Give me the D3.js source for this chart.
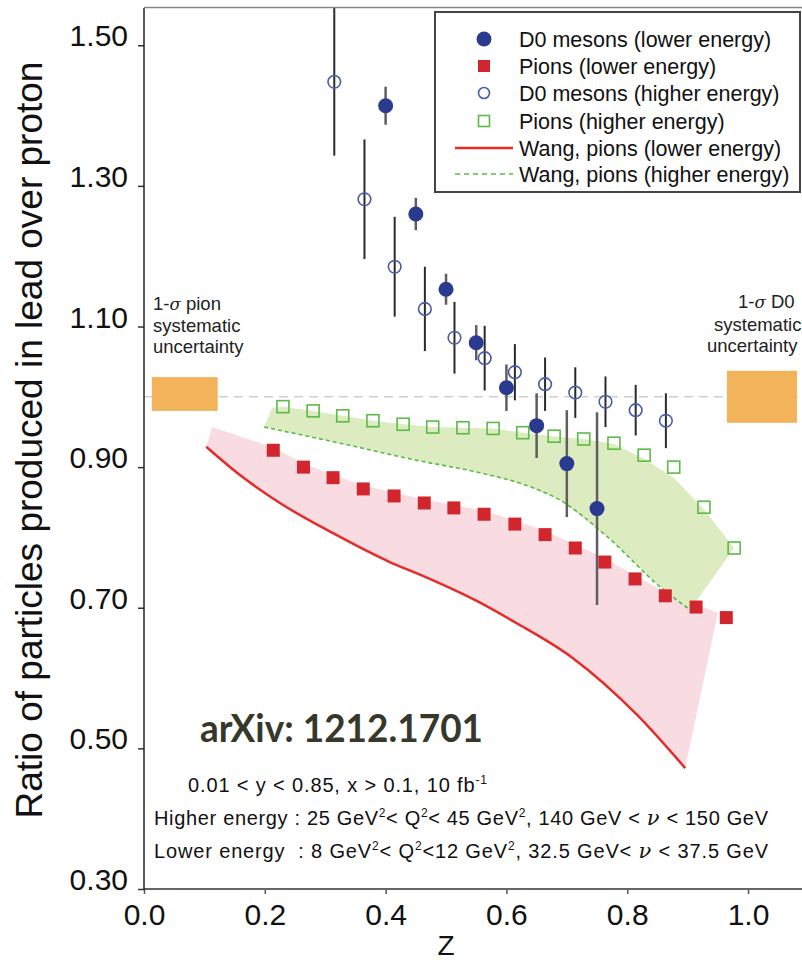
<!DOCTYPE html>
<html><head><meta charset="utf-8">
<script src="https://cdn.jsdelivr.net/npm/d3@7"></script>
<style>body{margin:0;background:#fff} svg{display:block} text{white-space:pre}</style>
</head><body>
<svg id="c" width="802" height="962"></svg>
<script>
// ---- data ----
const d0LowZ   = [0.40, 0.45, 0.50, 0.55, 0.60, 0.65, 0.70, 0.75];
const d0LowR   = [1.414, 1.260, 1.153, 1.077, 1.013, 0.959, 0.905, 0.841];
const d0LowErr = [0.027, 0.023, 0.022, 0.025, 0.033, 0.046, 0.076, 0.137];

const d0HighZ   = [0.315, 0.365, 0.415, 0.465, 0.514, 0.564, 0.614, 0.664, 0.714, 0.764, 0.814, 0.864];
const d0HighR   = [1.448, 1.281, 1.185, 1.125, 1.084, 1.055, 1.035, 1.018, 1.006, 0.993, 0.981, 0.966];
const d0HighErr = [0.105, 0.085, 0.071, 0.060, 0.051, 0.046, 0.040, 0.038, 0.036, 0.036, 0.036, 0.039];

const pionLowZ = [0.214, 0.264, 0.313, 0.363, 0.414, 0.464, 0.513, 0.563, 0.614, 0.664, 0.714, 0.763, 0.813, 0.863, 0.914, 0.964];
const pionLowR = [0.924, 0.900, 0.885, 0.869, 0.859, 0.849, 0.842, 0.833, 0.819, 0.804, 0.785, 0.765, 0.741, 0.717, 0.701, 0.686];

const pionHighZ = [0.230, 0.280, 0.329, 0.379, 0.429, 0.478, 0.528, 0.578, 0.627, 0.679, 0.728, 0.778, 0.828, 0.877, 0.927, 0.977];
const pionHighR = [0.986, 0.980, 0.973, 0.966, 0.961, 0.957, 0.956, 0.955, 0.949, 0.944, 0.940, 0.934, 0.917, 0.900, 0.843, 0.785];

// Wang theory, lower energy (solid red line = lower edge of pink band)
const wangLowZ = [0.103, 0.160, 0.225, 0.313, 0.407, 0.457, 0.550, 0.617, 0.709, 0.816, 0.896];
const wangLowR = [0.929, 0.888, 0.849, 0.806, 0.765, 0.747, 0.710, 0.678, 0.629, 0.548, 0.472];
// upper edge of pink band
const pinkTopZ = [0.113, 0.214, 0.264, 0.313, 0.363, 0.414, 0.464, 0.513, 0.563, 0.614, 0.664, 0.714, 0.763, 0.813, 0.863, 0.914, 0.950];
const pinkTopR = [0.957, 0.928, 0.905, 0.889, 0.874, 0.864, 0.854, 0.846, 0.838, 0.824, 0.809, 0.790, 0.770, 0.746, 0.722, 0.705, 0.693];

// Wang theory, higher energy (dashed green line = lower edge of green band)
const wangHighZ = [0.199, 0.325, 0.450, 0.556, 0.630, 0.689, 0.767, 0.854, 0.904];
const wangHighR = [0.957, 0.934, 0.910, 0.892, 0.875, 0.853, 0.801, 0.730, 0.697];
// upper edge of green band
const greenTopZ = [0.212, 0.230, 0.280, 0.329, 0.379, 0.429, 0.478, 0.528, 0.578, 0.627, 0.679, 0.728, 0.778, 0.828, 0.877, 0.927, 0.977];
const greenTopR = [0.984, 0.986, 0.980, 0.973, 0.966, 0.961, 0.957, 0.956, 0.955, 0.949, 0.944, 0.940, 0.933, 0.912, 0.885, 0.840, 0.785];

// systematic uncertainty boxes [z0, z1, r0, r1]
const pionSysBox = [0.013, 0.122, 0.980, 1.028];
const d0SysBox   = [0.965, 1.081, 0.963, 1.037];

const yTicks = [0.30, 0.50, 0.70, 0.90, 1.10, 1.30, 1.50];
const xTicks = [0.0, 0.2, 0.4, 0.6, 0.8, 1.0];

const legendLabels = ["D0 mesons (lower energy)", "Pions (lower energy)", "D0 mesons (higher energy)",
                      "Pions (higher energy)", "Wang, pions (lower energy)", "Wang, pions (higher energy)"];

// ---- drawing ----
const svg = d3.select("#c");
const x = d3.scaleLinear().domain([0, 1.09]).range([144, 802.4]);
const y = d3.scaleLinear().domain([0.3, 1.553]).range([889, 8]);

const C = {navy:"#2a3a8f", openBlue:"#4a5aaa", red:"#d1262e", green:"#5cba47",
           pink:"#f9dce2", lgreen:"#dcebc0", orange:"#f3b35b", redLine:"#e42c2a"};

svg.append("defs").append("clipPath").attr("id","plot")
  .append("rect").attr("x",144).attr("y",8).attr("width",660).attr("height",881);
const plot = svg.append("g").attr("clip-path","url(#plot)");

// reference line at 1
plot.append("line").attr("x1",x(0)).attr("x2",x(1.09)).attr("y1",y(1)).attr("y2",y(1))
  .attr("stroke","#cfcfcf").attr("stroke-width",1.5).attr("stroke-dasharray","9,6");

const zip = (a,b)=>a.map((v,i)=>[v,b[i]]);
const pt = d=>[x(d[0]),y(d[1])];

// pink band
const pinkPoly = zip(pinkTopZ,pinkTopR).concat(zip(wangLowZ,wangLowR).reverse());
plot.append("path").attr("d", d3.line()(pinkPoly.map(pt))+"Z").attr("fill",C.pink);
// green band
const greenPoly = zip(greenTopZ,greenTopR).concat(zip(wangHighZ,wangHighR).reverse());
plot.append("path").attr("d", d3.line()(greenPoly.map(pt))+"Z").attr("fill",C.lgreen);

// theory lines
const curve = d3.line().x(d=>x(d[0])).y(d=>y(d[1])).curve(d3.curveMonotoneX);
plot.append("path").attr("d",curve(zip(wangLowZ,wangLowR))).attr("fill","none")
  .attr("stroke",C.redLine).attr("stroke-width",2.5);
plot.append("path").attr("d",curve(zip(wangHighZ,wangHighR))).attr("fill","none")
  .attr("stroke",C.green).attr("stroke-width",1.6).attr("stroke-dasharray","4,3");

// systematic boxes
[pionSysBox, d0SysBox].forEach(b=>{
  plot.append("rect").attr("x",x(b[0])).attr("y",y(b[3]))
    .attr("width",x(b[1])-x(b[0])).attr("height",y(b[2])-y(b[3])).attr("fill",C.orange);
});

// error bars
plot.selectAll(".ehi").data(d0HighZ).join("line")
  .attr("x1",(d)=>x(d)).attr("x2",(d)=>x(d))
  .attr("y1",(d,i)=>y(d0HighR[i]+d0HighErr[i])).attr("y2",(d,i)=>y(d0HighR[i]-d0HighErr[i]))
  .attr("stroke","#2a2a2a").attr("stroke-width",2);
plot.selectAll(".elo").data(d0LowZ).join("line")
  .attr("x1",(d)=>x(d)).attr("x2",(d)=>x(d))
  .attr("y1",(d,i)=>y(d0LowR[i]+d0LowErr[i])).attr("y2",(d,i)=>y(d0LowR[i]-d0LowErr[i]))
  .attr("stroke","#5e5e5e").attr("stroke-width",2.5);

// markers
plot.selectAll(".pl").data(pionLowZ).join("rect")
  .attr("x",d=>x(d)-6.5).attr("y",(d,i)=>y(pionLowR[i])-6.5).attr("width",13).attr("height",13)
  .attr("fill",C.red);
plot.selectAll(".ph").data(pionHighZ).join("rect")
  .attr("x",d=>x(d)-6).attr("y",(d,i)=>y(pionHighR[i])-6).attr("width",12).attr("height",12)
  .attr("fill","none").attr("stroke",C.green).attr("stroke-width",1.6);
plot.selectAll(".dh").data(d0HighZ).join("circle")
  .attr("cx",d=>x(d)).attr("cy",(d,i)=>y(d0HighR[i])).attr("r",6.3)
  .attr("fill","none").attr("stroke",C.openBlue).attr("stroke-width",1.6);
plot.selectAll(".dl").data(d0LowZ).join("circle")
  .attr("cx",d=>x(d)).attr("cy",(d,i)=>y(d0LowR[i])).attr("r",7.5)
  .attr("fill",C.navy);

// axes
const font = "'Liberation Sans', Arial, Helvetica, sans-serif";
const yAxis = d3.axisLeft(y).tickValues(yTicks).tickFormat(d3.format(".2f")).tickSize(6).tickSizeOuter(0);
const gy = svg.append("g").attr("transform","translate(144,0)").call(yAxis);
gy.select(".domain").remove();
gy.selectAll(".tick line").attr("stroke","#333").attr("stroke-width",1.5);
gy.selectAll(".tick text").attr("x",-16).attr("dy","0.02em")
  .attr("font-family",font).attr("font-size",30).attr("fill","#111");

const xAxis = d3.axisBottom(x).tickValues(xTicks).tickFormat(d3.format(".1f")).tickSize(5).tickSizeOuter(0);
const gx = svg.append("g").attr("transform","translate(0,889)").call(xAxis);
gx.select(".domain").remove();
gx.selectAll(".tick line").attr("stroke","#555").attr("stroke-width",1.5);
gx.selectAll(".tick text").attr("y",15).attr("font-family",font).attr("font-size",30).attr("fill","#111");

// frame lines
svg.append("line").attr("x1",144).attr("x2",802).attr("y1",889).attr("y2",889).attr("stroke","#666").attr("stroke-width",2.2);
svg.append("line").attr("x1",144).attr("x2",144).attr("y1",8).attr("y2",890).attr("stroke","#222").attr("stroke-width",1.5);
svg.append("line").attr("x1",144).attr("x2",802).attr("y1",7.5).attr("y2",7.5).attr("stroke","#888").attr("stroke-width",1.5);

// axis titles
svg.append("text").attr("transform","translate(42,440) rotate(-90)").attr("text-anchor","middle")
  .attr("font-family",font).attr("font-size",37).attr("fill","#111")
  .text("Ratio of particles produced in lead over proton");
svg.append("text").attr("x",x(0.5)).attr("y",955).attr("text-anchor","middle")
  .attr("font-family",font).attr("font-size",28).attr("fill","#111").text("Z");

// legend
const lg = svg.append("g");
lg.append("rect").attr("x",435).attr("y",12).attr("width",365).attr("height",180)
  .attr("fill","#fff").attr("stroke","#444").attr("stroke-width",2);
const rowY = [39, 66, 93, 121, 148, 174];
lg.append("circle").attr("cx",484).attr("cy",rowY[0]).attr("r",7.5).attr("fill",C.navy);
lg.append("rect").attr("x",478).attr("y",rowY[1]-6).attr("width",12).attr("height",12).attr("fill",C.red);
lg.append("circle").attr("cx",484).attr("cy",rowY[2]).attr("r",5.5).attr("fill","none").attr("stroke",C.openBlue).attr("stroke-width",1.6);
lg.append("rect").attr("x",478.5).attr("y",rowY[3]-5.5).attr("width",11).attr("height",11).attr("fill","none").attr("stroke",C.green).attr("stroke-width",1.6);
lg.append("line").attr("x1",455).attr("x2",513).attr("y1",rowY[4]).attr("y2",rowY[4]).attr("stroke",C.redLine).attr("stroke-width",2.5);
lg.append("line").attr("x1",455).attr("x2",513).attr("y1",rowY[5]).attr("y2",rowY[5]).attr("stroke",C.green).attr("stroke-width",1.6).attr("stroke-dasharray","5,4");
lg.selectAll(".lt").data(legendLabels).join("text")
  .attr("x",519).attr("y",(d,i)=>rowY[i]+8).attr("font-family",font).attr("font-size",21.5).attr("fill","#111")
  .text(d=>d);

// side annotations
function multi(lines, xs, ys, size){
  lines.forEach((ln,i)=>{
    const t = svg.append("text").attr("x",xs[i]).attr("y",ys[i]).attr("font-family",font)
      .attr("font-size",size).attr("fill","#222");
    ln.forEach(seg=>{
      const s = t.append("tspan").text(seg[0]);
      if(seg[1]==="it") s.attr("font-style","italic").attr("font-family","'DejaVu Serif', serif").attr("font-size",size*0.9);
    });
  });
}
multi([[["1-"],["σ","it"],[" pion"]],[["systematic"]],[["uncertainty"]]], [153,153,153], [310,332,353], 18.5);
multi([[["1-"],["σ","it"],[" D0"]],[["systematic"]],[["uncertainty"]]], [738,714,707], [308,331,352], 18.5);

// arXiv tag
svg.append("text").attr("x",200).attr("y",742).attr("font-family","Lato, 'Open Sans', sans-serif")
  .attr("font-weight","bold").attr("font-size",39).attr("fill","#36382b")
  .attr("textLength",283).attr("lengthAdjust","spacingAndGlyphs").text("arXiv: 1212.1701");

// kinematic notes
function rich(xp, yp, segs, size, len){
  const t = svg.append("text").attr("x",xp).attr("y",yp).attr("font-family",font)
    .attr("font-size",size).attr("fill","#111");
  let pending = 0;
  segs.forEach(seg=>{
    const [s,type] = seg;
    let sp;
    if(type==="sup"){
      sp = t.append("tspan").attr("dy",-8 + pending).attr("font-size",size*0.6).text(s);
      pending = 8;
      return;
    } else if(type==="nu"){
      sp = t.append("tspan").attr("font-family","'DejaVu Serif', 'Liberation Serif', serif").attr("font-style","italic").attr("font-size",size*1.05).text(s);
    } else sp = t.append("tspan").text(s);
    if(pending){ sp.attr("dy",pending); pending = 0; }
  });
  if(len) t.attr("textLength",len).attr("lengthAdjust","spacing");
}
rich(188, 792, [["0.01 < y < 0.85, x > 0.1, 10 fb"],["-1","sup"]], 20, 299);
rich(154, 825, [["Higher energy : 25 GeV"],["2","sup"],["< Q"],["2","sup"],["< 45 GeV"],["2","sup"],[", 140 GeV < "],["ν","nu"],[" < 150 GeV"]], 20, 614);
rich(154, 858, [["Lower energy  : 8 GeV"],["2","sup"],["< Q"],["2","sup"],["<12 GeV"],["2","sup"],[", 32.5 GeV< "],["ν","nu"],[" < 37.5 GeV"]], 20, 614);
</script>
</body></html>
